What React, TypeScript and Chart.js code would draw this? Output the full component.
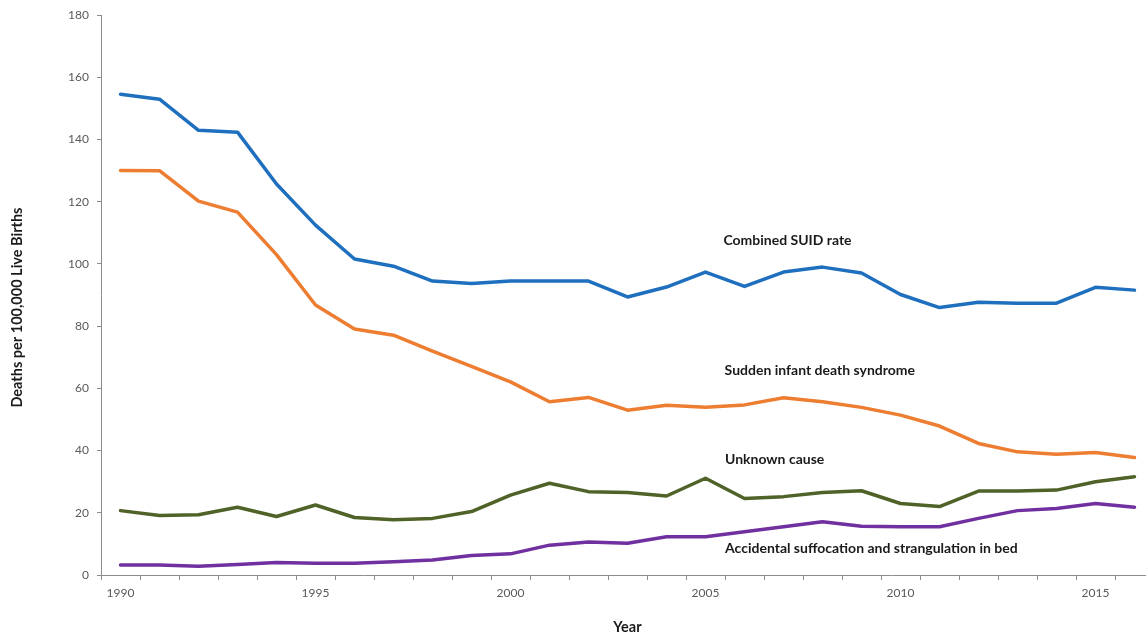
import React, { useEffect, useRef } from "react";
import { Chart, registerables } from "chart.js";

Chart.register(...registerables);

const years = [
  "1990", "1991", "1992", "1993", "1994", "1995", "1996", "1997", "1998", "1999",
  "2000", "2001", "2002", "2003", "2004", "2005", "2006", "2007", "2008", "2009",
  "2010", "2011", "2012", "2013", "2014", "2015", "2016",
];

const combinedSuid = [
  154.6, 153.0, 143.0, 142.4, 125.7, 112.5, 101.6, 99.3, 94.5, 93.7,
  94.5, 94.5, 94.5, 89.4, 92.6, 97.4, 92.8, 97.4, 99.0, 97.1,
  90.2, 86.0, 87.7, 87.4, 87.4, 92.5, 91.6,
];

const sids = [
  130.1, 130.0, 120.2, 116.7, 103.0, 86.8, 79.1, 77.1, 72.0, 67.1,
  62.1, 55.7, 57.1, 53.0, 54.6, 53.9, 54.7, 57.0, 55.7, 53.9,
  51.4, 47.9, 42.3, 39.6, 38.8, 39.4, 37.8,
];

const unknownCause = [
  20.7, 19.1, 19.4, 21.8, 18.8, 22.5, 18.5, 17.8, 18.2, 20.4,
  25.7, 29.5, 26.8, 26.5, 25.4, 31.1, 24.6, 25.2, 26.5, 27.1,
  23.0, 22.0, 27.0, 27.0, 27.3, 30.0, 31.6,
];

const accidentalSuffocation = [
  3.2, 3.2, 2.8, 3.4, 4.0, 3.8, 3.8, 4.3, 4.8, 6.3,
  6.8, 9.6, 10.6, 10.2, 12.3, 12.3, 13.9, 15.5, 17.1, 15.7,
  15.5, 15.5, 18.2, 20.7, 21.4, 23.0, 21.8,
];

const labeledYears = ["1990", "1995", "2000", "2005", "2010", "2015"];

const yAxisTitle = "Deaths per 100,000 Live Births";
const xAxisTitle = "Year";

// Series captions drawn inside the plot (category index, value)
const seriesCaptions = [
  { text: "Combined SUID rate", index: 15.46, value: 107.7 },
  { text: "Sudden infant death syndrome", index: 15.49, value: 65.9 },
  { text: "Unknown cause", index: 15.5, value: 37.0 },
  { text: "Accidental suffocation and strangulation in bed", index: 15.5, value: 8.4 },
];

const FONT = "Lato, 'Open Sans', 'DejaVu Sans', sans-serif";

const captionPlugin = {
  id: "seriesCaptions",
  afterDatasetsDraw(chart: any) {
    const { ctx, scales } = chart;
    const xs = scales.x;
    const ys = scales.y;
    ctx.save();
    ctx.font = `bold 14px ${FONT}`;
    ctx.fillStyle = "#1a1a1a";
    ctx.textAlign = "left";
    ctx.textBaseline = "middle";
    for (const c of seriesCaptions) {
      ctx.fillText(c.text, xs.getPixelForValue(c.index), ys.getPixelForValue(c.value));
    }
    // vertical axis title, slightly below the plot's middle as in the source
    const cy = ys.getPixelForValue(86);
    ctx.translate(17, cy);
    ctx.rotate(-Math.PI / 2);
    ctx.textAlign = "center";
    ctx.font = `bold 14.5px ${FONT}`;
    ctx.fillText(yAxisTitle, 0, 0);
    ctx.restore();
  },
};

export default function App() {
  const ref = useRef<HTMLCanvasElement | null>(null);

  useEffect(() => {
    if (!ref.current) return;
    const chart = new Chart(ref.current, {
      type: "line",
      data: {
        labels: years,
        datasets: [
          { label: "Combined SUID rate", data: combinedSuid, borderColor: "#1F6FBF", backgroundColor: "#1F6FBF" },
          { label: "Sudden infant death syndrome", data: sids, borderColor: "#ED7D31", backgroundColor: "#ED7D31" },
          { label: "Unknown cause", data: unknownCause, borderColor: "#4F6228", backgroundColor: "#4F6228" },
          { label: "Accidental suffocation and strangulation in bed", data: accidentalSuffocation, borderColor: "#7030A0", backgroundColor: "#7030A0" },
        ],
      },
      options: {
        animation: false,
        responsive: false,
        devicePixelRatio: 1,
        layout: { padding: { top: 15, right: 6, left: 0, bottom: 0 } },
        elements: {
          line: { borderWidth: 3.5, tension: 0, borderJoinStyle: "round", borderCapStyle: "round" },
          point: { radius: 0, hoverRadius: 0 },
        },
        plugins: {
          legend: { display: false },
          tooltip: { enabled: false },
          title: { display: false },
        },
        scales: {
          x: {
            type: "category",
            offset: true,
            afterFit: (s: any) => { s.height = 59; },
            grid: {
              offset: true,
              drawOnChartArea: false,
              drawTicks: true,
              tickLength: 5,
              color: "#8c8c8c",
            },
            border: { display: true, color: "#8c8c8c", width: 1 },
            ticks: {
              autoSkip: false,
              maxRotation: 0,
              padding: 6,
              color: "#595959",
              font: { family: FONT, size: 12 },
              callback: function (this: any, _v: any, i: number) {
                const lab = years[i];
                return labeledYears.includes(lab) ? lab : "";
              },
            },
            title: {
              display: true,
              text: xAxisTitle,
              color: "#1a1a1a",
              font: { family: FONT, size: 14.5, weight: "bold" },
              padding: { top: 0, bottom: -2 },
            },
          },
          y: {
            min: 0,
            max: 180,
            afterFit: (s: any) => { s.width = 101; },
            grid: {
              drawOnChartArea: false,
              drawTicks: true,
              tickLength: 4,
              color: "#8c8c8c",
            },
            border: { display: true, color: "#8c8c8c", width: 1 },
            ticks: {
              stepSize: 20,
              padding: 8,
              color: "#595959",
              font: { family: FONT, size: 12 },
            },
            title: { display: false },
          },
        },
      },
      plugins: [captionPlugin],
    });
    return () => chart.destroy();
  }, []);

  return (
    <div style={{ position: "fixed", left: 0, top: 0, width: 1146, height: 634, overflow: "hidden", background: "#fff" }}>
      <canvas ref={ref} width={1160} height={634} style={{ display: "block", width: 1160, height: 634 }} />
    </div>
  );
}
